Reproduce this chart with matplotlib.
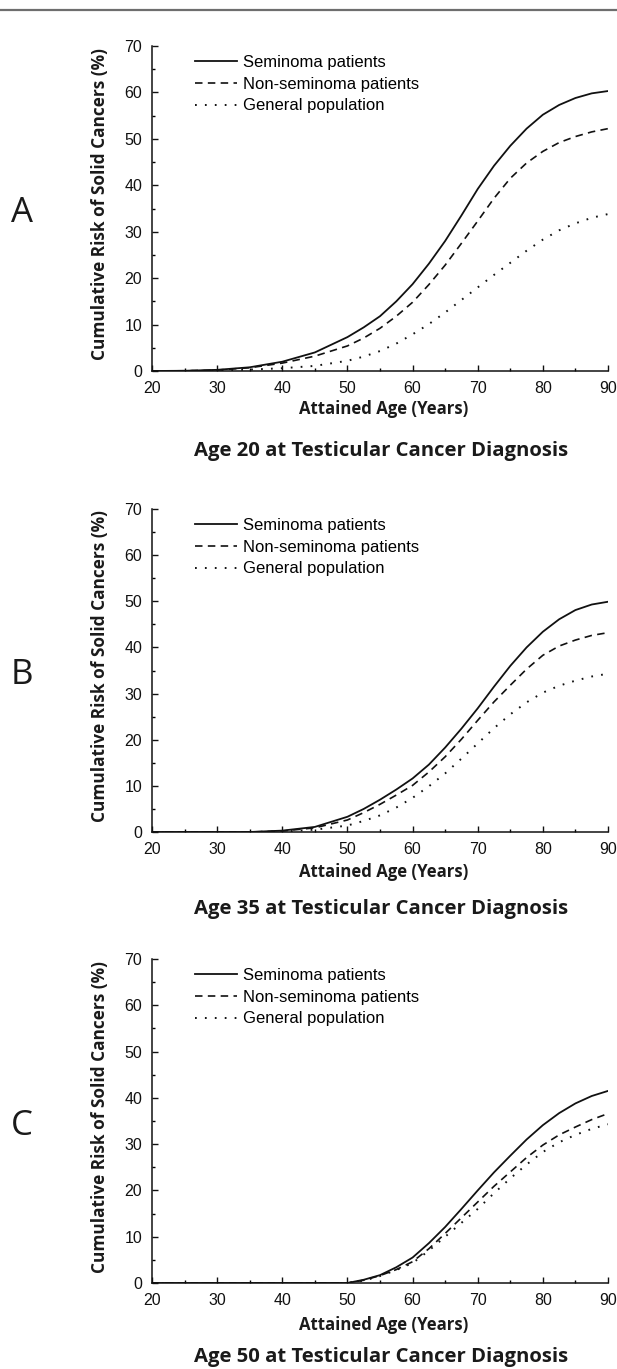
import matplotlib
matplotlib.use("Agg")
import matplotlib.pyplot as plt
from matplotlib.lines import Line2D
from matplotlib.ticker import MultipleLocator

W, H = 617, 1369

# attained age grid (years)
ages = [20, 25, 30, 35, 40, 45, 50, 52.5, 55, 57.5, 60, 62.5, 65, 67.5, 70,
        72.5, 75, 77.5, 80, 82.5, 85, 87.5, 90]

# panel A: diagnosis at age 20
a_sem = [0, 0.05, 0.25, 0.8, 2.0, 4.0, 7.3, 9.4, 11.8, 15.0, 18.7, 23.1, 28.0, 33.5, 39.2,
         44.2, 48.5, 52.2, 55.2, 57.3, 58.8, 59.8, 60.3]
a_non = [0, 0.05, 0.2, 0.7, 1.7, 3.2, 5.4, 7.1, 9.2, 11.8, 14.8, 18.6, 22.8, 27.5, 32.3,
         37.2, 41.5, 44.8, 47.3, 49.2, 50.5, 51.5, 52.2]
a_gen = [0, 0, 0.1, 0.3, 0.6, 1.1, 2.2, 3.1, 4.3, 5.9, 7.9, 10.1, 12.6, 15.3, 18.0,
         20.7, 23.3, 25.9, 28.3, 30.3, 31.8, 33.0, 33.8]

# panel B: diagnosis at age 35
b_sem = [0, 0, 0, 0, 0.3, 1.1, 3.3, 5.0, 7.0, 9.2, 11.6, 14.6, 18.3, 22.4, 26.8,
         31.5, 36.0, 40.0, 43.4, 46.1, 48.1, 49.3, 49.9]
b_non = [0, 0, 0, 0, 0.2, 0.9, 2.6, 4.2, 6.0, 8.0, 10.1, 13.0, 16.3, 20.1, 24.2,
         28.2, 31.8, 35.3, 38.3, 40.3, 41.6, 42.6, 43.2]
b_gen = [0, 0, 0, 0, 0.1, 0.5, 1.4, 2.4, 3.6, 5.3, 7.4, 9.9, 12.7, 15.9, 19.2,
         22.5, 25.5, 28.1, 30.2, 31.7, 32.8, 33.7, 34.3]

# panel C: diagnosis at age 50
c_sem = [0, 0, 0, 0, 0, 0, 0, 0.7, 1.7, 3.4, 5.5, 8.6, 12.1, 16.0, 20.0,
         23.9, 27.5, 31.0, 34.1, 36.7, 38.8, 40.4, 41.5]
c_non = [0, 0, 0, 0, 0, 0, 0, 0.6, 1.6, 2.9, 4.6, 7.4, 10.7, 14.1, 17.5,
         20.9, 24.0, 27.1, 29.8, 32.0, 33.7, 35.3, 36.6]
c_gen = [0, 0, 0, 0, 0, 0, 0, 0.5, 1.5, 2.8, 4.3, 7.0, 10.0, 13.0, 16.0,
         19.4, 22.6, 25.6, 28.3, 30.4, 32.0, 33.3, 34.3]

series_names = ["Seminoma patients", "Non-seminoma patients", "General population"]
panel_letters = ["A", "B", "C"]
panel_titles = ["Age 20 at Testicular Cancer Diagnosis",
                "Age 35 at Testicular Cancer Diagnosis",
                "Age 50 at Testicular Cancer Diagnosis"]
panel_data = [(a_sem, a_non, a_gen), (b_sem, b_non, b_gen), (c_sem, c_non, c_gen)]

# axes top / bottom in pixels, offsets of x label and title below the axis
ax_tops = [46, 509, 959]
ax_bots = [371, 832, 1283]
xlab_off = [38, 40, 42]
title_off = [80, 77, 74]
ax_left, ax_right = 152, 608

tick_font = "Liberation Sans"
lab_font = "Open Sans"

fig = plt.figure(figsize=(W / 100, H / 100), dpi=100)
fig.patch.set_facecolor("white")


def fx(px):
    return px / W


def fy(py):
    return 1 - py / H


# thin rule at the top of the page
fig.add_artist(Line2D([0, 1], [fy(10), fy(10)], color="#6e6e6e", lw=1.6))

styles = [dict(ls="-", lw=1.3),
          dict(ls=(0, (4.5, 3.2)), lw=1.2),
          dict(ls=(0, (0.9, 4.2)), lw=1.4)]

for i in range(3):
    top, bot = ax_tops[i], ax_bots[i]
    ax = fig.add_axes([fx(ax_left), fy(bot), fx(ax_right - ax_left), (bot - top) / H])
    for vals, name, st in zip(panel_data[i], series_names, styles):
        ax.plot(ages, vals, color="#111111", label=name, **st)

    ax.set_xlim(20, 90)
    ax.set_ylim(0, 70)
    ax.xaxis.set_major_locator(MultipleLocator(10))
    ax.xaxis.set_minor_locator(MultipleLocator(5))
    ax.yaxis.set_major_locator(MultipleLocator(10))
    ax.yaxis.set_minor_locator(MultipleLocator(5))
    for s in ["top", "right"]:
        ax.spines[s].set_visible(False)
    for s in ["left", "bottom"]:
        ax.spines[s].set_linewidth(1.1)
        ax.spines[s].set_color("#111111")
    ax.tick_params(which="major", direction="in", length=4.5, width=1.0, pad=7,
                   labelsize=11.5, colors="#111111")
    ax.tick_params(which="minor", direction="in", length=2.3, width=1.0)
    for lb in ax.get_xticklabels() + ax.get_yticklabels():
        lb.set_fontfamily(tick_font)
    ax.set_facecolor("none")

    ax.legend(loc="upper left", bbox_to_anchor=(0.094, 0.972), frameon=False,
              prop={"family": tick_font, "size": 12}, handlelength=2.5,
              handletextpad=0.36, labelspacing=0.40, borderaxespad=0, borderpad=0)

    # x label, panel title, y label, panel letter
    fig.text(fx(384), fy(bot + xlab_off[i]), "Attained Age (Years)", ha="center",
             va="center", family=lab_font, weight="bold", fontsize=12.1, color="#1a1a1a")
    fig.text(fx(381), fy(bot + title_off[i]), panel_titles[i], ha="center", va="center",
             family=lab_font, weight="bold", fontsize=14.6, color="#1a1a1a")
    fig.text(fx(100), fy((top + bot) / 2 - 4), "Cumulative Risk of Solid Cancers (%)",
             rotation=90, ha="center", va="center", family=lab_font, weight="bold",
             fontsize=12.4, color="#1a1a1a")
    fig.text(fx(22), fy((top + bot) / 2 + 5), panel_letters[i], ha="center", va="center",
             family=lab_font, fontsize=25, color="#1a1a1a")

fig.savefig("out.png", dpi=100, facecolor="white")
